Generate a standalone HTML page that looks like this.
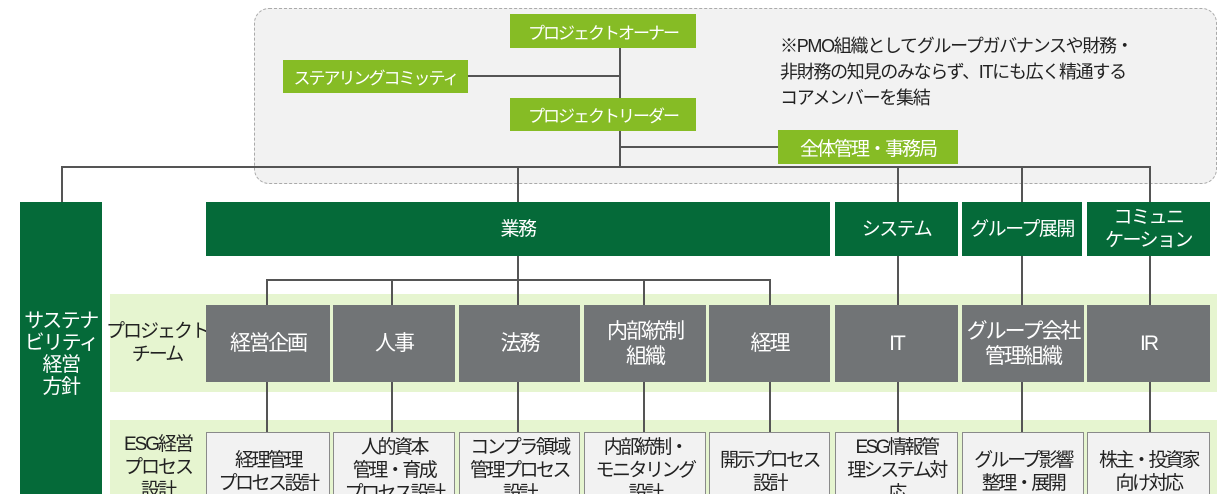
<!DOCTYPE html>
<html><head><meta charset="utf-8"><style>
html,body{margin:0;width:1223px;height:494px;overflow:hidden;}
body{background:#fff;position:relative;font-family:"Liberation Sans","Noto Sans CJK JP",sans-serif;}
div{position:absolute;box-sizing:border-box;}
.c{display:flex;align-items:center;justify-content:center;text-align:center;white-space:nowrap;}
.lg{background:#86bc25;color:#fff;font-size:17px;letter-spacing:-2px;}
.dg{background:#056a39;color:#fff;font-size:19px;line-height:23px;letter-spacing:-1.5px;}
.gr{background:#717476;color:#fff;font-size:21px;line-height:25px;top:305px;height:77px;letter-spacing:-2px;}
.wb{background:#f2f2f2;border:1px solid #8a8a8a;color:#222;font-size:19px;line-height:23px;top:432px;height:80px;align-items:flex-start;letter-spacing:-2.5px;padding-top:3px;}
.h{height:2px;background:#555;}
.v{width:2px;background:#555;}
.band{background:#e6f5d0;left:110px;width:1107px;}
.lab{font-size:19px;line-height:23px;color:#222;letter-spacing:-2px;}
</style></head><body>
<div style="left:254px;top:8px;width:963px;height:176px;background:#f2f2f2;border:1.5px dashed #aaa;border-radius:15px;"></div>
<div class="v" style="left:619px;top:48px;height:120px;"></div>
<div class="h" style="left:468px;top:75px;width:152px;"></div>
<div class="h" style="left:620px;top:146px;width:158px;"></div>
<div class="h" style="left:61px;top:166px;width:1090px;"></div>
<div class="v" style="left:61px;top:166px;height:37px;"></div>
<div class="v" style="left:517px;top:166px;height:37px;"></div>
<div class="v" style="left:897px;top:166px;height:37px;"></div>
<div class="v" style="left:1021px;top:166px;height:37px;"></div>
<div class="v" style="left:1149px;top:166px;height:37px;"></div>
<div class="lg c" style="left:510px;top:14px;width:186px;height:34px;">プロジェクトオーナー</div>
<div class="lg c" style="left:283px;top:60px;width:185px;height:33px;">ステアリングコミッティ</div>
<div class="lg c" style="left:510px;top:98px;width:186px;height:33px;">プロジェクトリーダー</div>
<div class="lg c" style="left:778px;top:130px;width:180px;height:34px;font-size:19px;">全体管理・事務局</div>
<div style="left:780px;top:33px;font-size:18px;line-height:26px;color:#222;letter-spacing:-1.3px;white-space:nowrap;">※PMO組織としてグループガバナンスや財務・<br>非財務の知見のみならず、ITにも広く精通する<br>コアメンバーを集結</div>
<div class="dg c" style="left:20px;top:202px;width:82px;height:292px;font-size:20px;line-height:22px;padding-top:12px;">サステナ<br>ビリティ<br>経営<br>方針</div>
<div class="dg c" style="left:206px;top:202px;width:624px;height:54px;">業務</div>
<div class="dg c" style="left:835px;top:202px;width:123px;height:54px;">システム</div>
<div class="dg c" style="left:962px;top:202px;width:120px;height:54px;">グループ展開</div>
<div class="dg c" style="left:1087px;top:202px;width:123px;height:54px;">コミュニ<br>ケーション</div>
<div class="band" style="top:294px;height:98px;"></div>
<div class="band" style="top:420px;height:74px;"></div>
<div class="v" style="left:517px;top:256px;height:25px;"></div>
<div class="h" style="left:266px;top:279px;width:505px;"></div>
<div class="v" style="left:266px;top:279px;height:26px;"></div>
<div class="v" style="left:391px;top:279px;height:26px;"></div>
<div class="v" style="left:517px;top:279px;height:26px;"></div>
<div class="v" style="left:643px;top:279px;height:26px;"></div>
<div class="v" style="left:769px;top:279px;height:26px;"></div>
<div class="v" style="left:897px;top:256px;height:49px;"></div>
<div class="v" style="left:1021px;top:256px;height:49px;"></div>
<div class="v" style="left:1149px;top:256px;height:49px;"></div>
<div class="v" style="left:266px;top:382px;height:50px;"></div>
<div class="v" style="left:391px;top:382px;height:50px;"></div>
<div class="v" style="left:517px;top:382px;height:50px;"></div>
<div class="v" style="left:643px;top:382px;height:50px;"></div>
<div class="v" style="left:769px;top:382px;height:50px;"></div>
<div class="v" style="left:897px;top:382px;height:50px;"></div>
<div class="v" style="left:1021px;top:382px;height:50px;"></div>
<div class="v" style="left:1149px;top:382px;height:50px;"></div>
<div class="lab c" style="left:108px;top:318px;width:98px;height:50px;">プロジェクト<br>チーム</div>
<div class="lab c" style="left:110px;top:433px;width:96px;height:80px;align-items:flex-start;">ESG経営<br>プロセス<br>設計</div>
<div class="gr c" style="left:206px;width:124px;">経営企画</div>
<div class="gr c" style="left:333px;width:122px;">人事</div>
<div class="gr c" style="left:459px;width:121px;">法務</div>
<div class="gr c" style="left:584px;width:122px;">内部統制<br>組織</div>
<div class="gr c" style="left:709px;width:121px;">経理</div>
<div class="gr c" style="left:835px;width:123px;">IT</div>
<div class="gr c" style="left:962px;width:122px;">グループ会社<br>管理組織</div>
<div class="gr c" style="left:1087px;width:123px;">IR</div>
<div class="wb c" style="left:206px;width:124px;padding-top:16px;">経理管理<br>プロセス設計</div>
<div class="wb c" style="left:333px;width:122px;">人的資本<br>管理・育成<br>プロセス設計</div>
<div class="wb c" style="left:459px;width:121px;">コンプラ領域<br>管理プロセス<br>設計</div>
<div class="wb c" style="left:584px;width:122px;">内部統制・<br>モニタリング<br>設計</div>
<div class="wb c" style="left:709px;width:121px;padding-top:16px;">開示プロセス<br>設計</div>
<div class="wb c" style="left:835px;width:123px;">ESG情報管<br>理システム対<br>応</div>
<div class="wb c" style="left:962px;width:122px;padding-top:16px;">グループ影響<br>整理・展開</div>
<div class="wb c" style="left:1087px;width:123px;padding-top:16px;">株主・投資家<br>向け対応</div>
</body></html>
